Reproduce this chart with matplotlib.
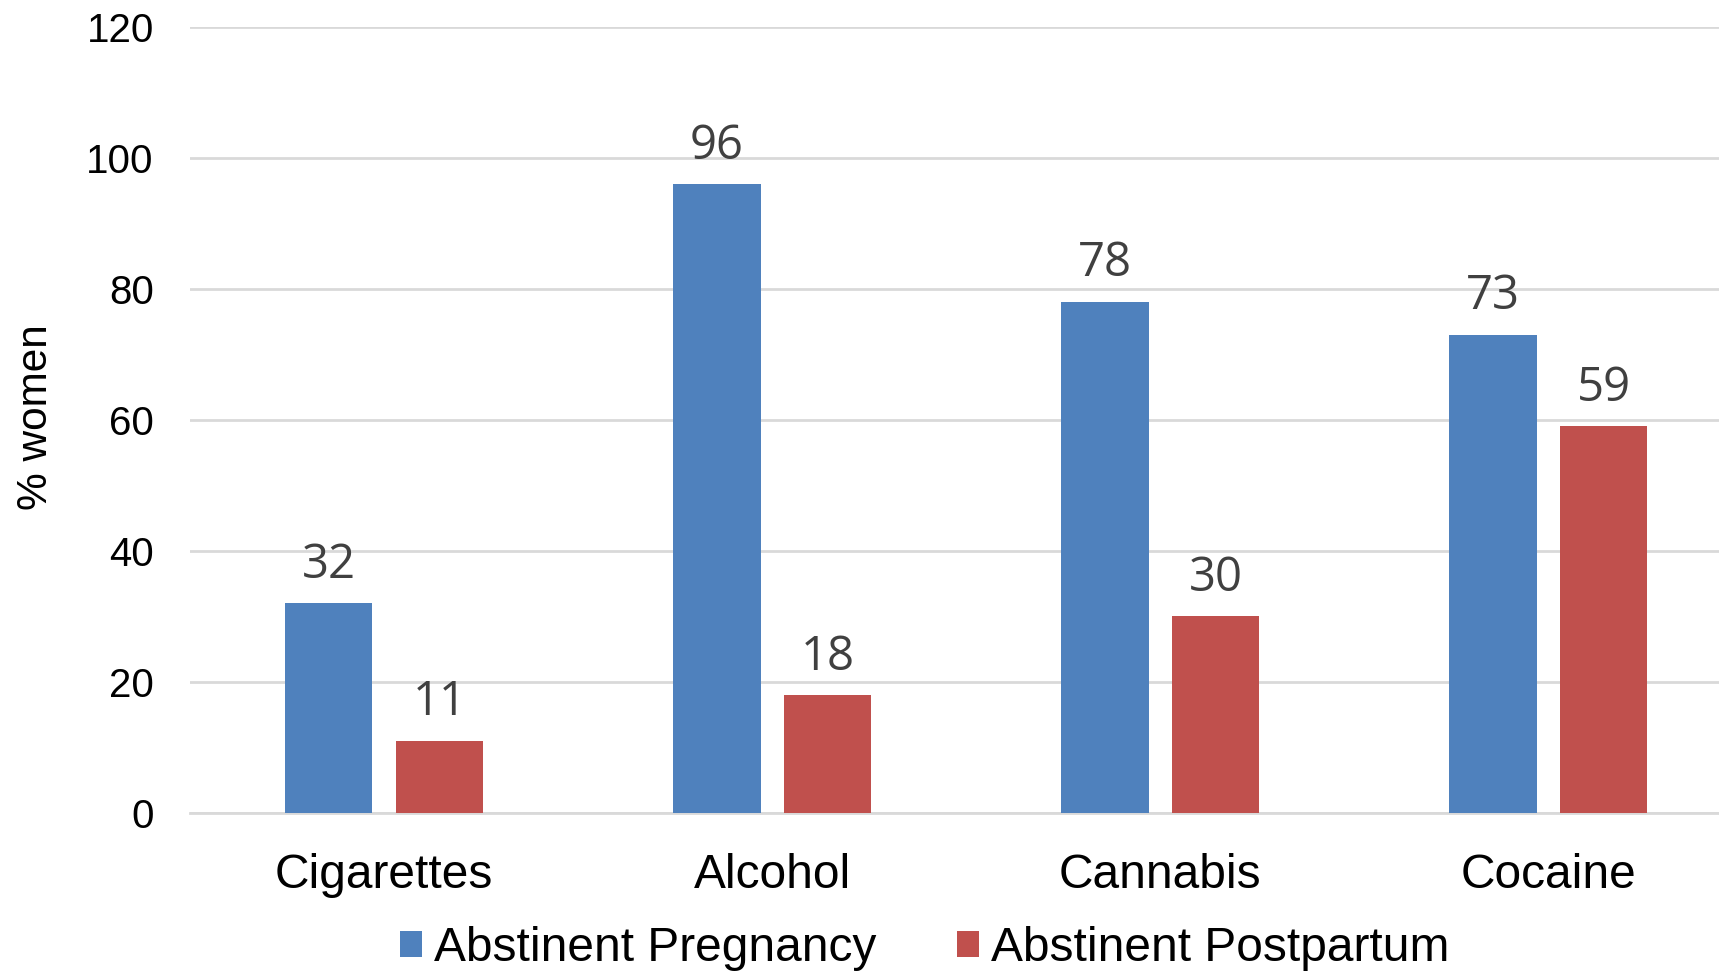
import matplotlib
matplotlib.use("Agg")
import matplotlib.pyplot as plt
import numpy as np

categories = ["Cigarettes", "Alcohol", "Cannabis", "Cocaine"]
pregnancy = [32, 96, 78, 73]
postpartum = [11, 18, 30, 59]
series_names = ["Abstinent Pregnancy", "Abstinent Postpartum"]
yticks = [0, 20, 40, 60, 80, 100, 120]

blue = "#4f81bd"
red = "#c0504d"

fig = plt.figure(figsize=(17.19, 9.73), dpi=100)
ax = fig.add_axes([0.1105, 0.1644, 0.8895, 0.808])

x = np.arange(len(categories))
w = 0.226
off = 0.1427
b1 = ax.bar(x - off, pregnancy, w, color=blue, label=series_names[0], zorder=3)
b2 = ax.bar(x + off, postpartum, w, color=red, label=series_names[1], zorder=3)

for bars, vals in ((b1, pregnancy), (b2, postpartum)):
    for rect, v in zip(bars, vals):
        ax.annotate(str(v), (rect.get_x() + rect.get_width() / 2, v),
                    xytext=(0, 10.5), textcoords="offset points",
                    ha="center", va="bottom", fontsize=34,
                    family="Open Sans", color="#404040")

ax.set_xlim(-0.5, len(categories) - 0.56)
ax.set_ylim(0, 120)
ax.set_yticks(yticks)
ax.set_yticklabels([str(t) for t in yticks], fontsize=29, family="Liberation Sans")
ax.set_xticks(x)
ax.set_xticklabels(categories, fontsize=34.5, family="Liberation Sans")
ax.tick_params(axis="both", length=0)
ax.tick_params(axis="y", pad=26)
ax.tick_params(axis="x", pad=28.5)
ax.yaxis.grid(True, color="#d9d9d9", linewidth=2, zorder=0)
for s in ["top", "right", "left"]:
    ax.spines[s].set_visible(False)
ax.spines["bottom"].set_color("#d9d9d9")
ax.spines["bottom"].set_linewidth(2)
ax.set_ylabel("% women", fontsize=30.5, family="Liberation Sans", va="center")
ax.yaxis.set_label_coords(-0.1007, 0.504)

leg = fig.legend(handles=[b1, b2], loc="center", bbox_to_anchor=(0.538, 0.0255),
                 ncol=2, frameon=False, prop={"family": "Liberation Sans", "size": 34.5},
                 handlelength=0.46, handleheight=0.46, handletextpad=0.25, columnspacing=1.67,
                 borderpad=0, borderaxespad=0)

fig.savefig("out.png", dpi=100)
